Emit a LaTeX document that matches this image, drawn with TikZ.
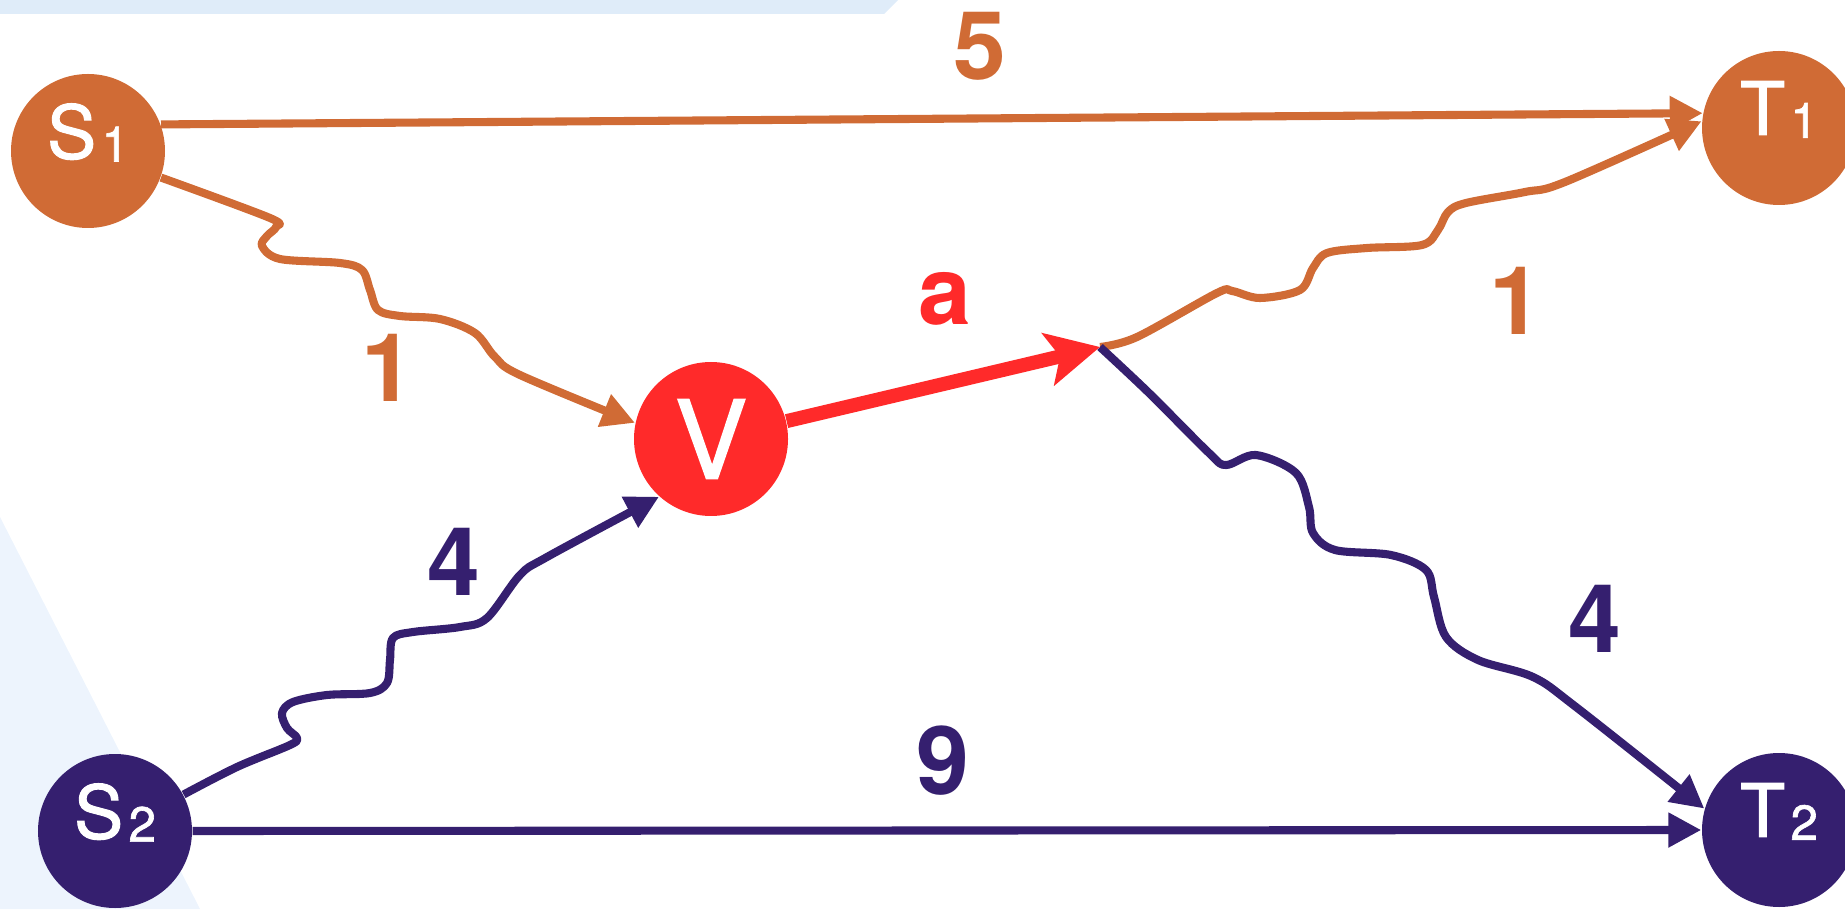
\documentclass[tikz,border=0pt]{standalone}
\usepackage{fontspec}
\setmainfont{TeX Gyre Heros}
\newfontfamily\termfont[FakeBold=1.3]{TeX Gyre Heros}
\usetikzlibrary{arrows.meta}

\definecolor{orng}{HTML}{D06B35}
\definecolor{prpl}{HTML}{351F6F}
\definecolor{hot}{HTML}{FF2A2A}
\definecolor{bandblue}{HTML}{DFECF9}
\definecolor{paleblue}{HTML}{EDF4FD}

% terminal label: letter with a small lowered index
\newcommand{\termlabel}[2]{\raisebox{4mm}{#1\kern1.5pt\raisebox{-0.3mm}{\fontsize{14}{14}\selectfont #2}}}

\begin{document}
\begin{tikzpicture}[
  terminal/.style={circle,minimum size=15.4mm,inner sep=0pt,text=white,font=\termfont\fontsize{21}{21}\selectfont},
  srcA/.style={terminal,fill=orng},
  srcB/.style={terminal,fill=prpl},
  mid/.style={terminal,fill=hot,font=\termfont\fontsize{31}{31}\selectfont},
  wire/.style={line width=2.3pt,line join=round,-{Triangle[length=3.3mm,width=3.3mm]}},
  wireA/.style={wire,orng},
  wireB/.style={wire,prpl},
  hotwire/.style={line width=4pt,hot,-{Stealth[length=5.3mm,width=5.3mm,inset=1.2mm]}},
  weight/.style={font=\bfseries\fontsize{27}{27}\selectfont}
]
\useasboundingbox (0,0) rectangle (18.45,9.09);
% background shapes
\fill[bandblue] (0,9.09) -- (8.98,9.09) -- (8.84,8.95) -- (0,8.95) -- cycle;
\fill[paleblue] (0,3.92) -- (2.00,0) -- (0,0) -- cycle;

\node[srcA] (s1) at (0.88,7.58) {\termlabel{S}{1}};
\node[srcA] (t1) at (17.79,7.81) {\termlabel{T}{1}};
\node[srcB] (s2) at (1.15,0.78) {\termlabel{S}{2}};
\node[srcB] (t2) at (17.79,0.79) {\termlabel{T}{2}};
\node[mid] (v) at (7.11,4.70) {V};
\coordinate (j) at (11.00,5.62);

% direct edges
\draw[wireA] (s1.20) -- (t1.169);
\draw[wireB] (s2.east) -- (t2.west);

% wavy edges
\draw[wireA] plot[smooth,tension=0.55] coordinates {(s1.-20) (2.70,6.91) (2.76,6.82) (2.67,6.73) (2.62,6.63)
  (2.80,6.50) (3.40,6.46) (3.62,6.39) (3.70,6.19) (3.78,5.99) (4.00,5.93) (4.40,5.90)
  (4.75,5.76) (4.95,5.52) (5.20,5.34) (v.168)};
\draw[wireB] plot[smooth,tension=0.55] coordinates {(s2.28) (2.37,1.42) (2.90,1.64) (2.97,1.71) (2.87,1.81)
  (2.82,1.96) (2.93,2.07) (3.27,2.14) (3.70,2.16) (3.87,2.26) (3.90,2.49) (3.93,2.71)
  (4.13,2.77) (4.60,2.82) (4.87,2.91) (5.20,3.34) (5.47,3.52) (v.-132)};
\draw[wireA] plot[smooth,tension=0.55] coordinates {(j) (11.37,5.72) (12.17,6.16) (12.32,6.18) (12.60,6.11)
  (13.00,6.19) (13.13,6.41) (13.27,6.56) (13.67,6.61) (14.22,6.64) (14.38,6.79)
  (14.48,6.97) (14.66,7.06) (15.25,7.17) (15.65,7.27) (t1.175)};
\draw[wireB] plot[smooth,tension=0.55] coordinates {(j) (11.49,5.16) (12.09,4.56) (12.26,4.44) (12.56,4.54)
  (12.96,4.36) (13.09,4.02) (13.13,3.76) (13.35,3.59) (13.91,3.54) (14.26,3.39)
  (14.34,3.12) (14.46,2.72) (14.78,2.49) (15.33,2.32) (15.76,2.02) (t2.164)};

\draw[hotwire] (v) -- (j);

% weights
\node[weight,orng] (w5) at (9.80,8.63) {5};
\node[weight,orng] (w1a) at (3.88,5.41) {1};
\node[weight,orng] (w1b) at (15.16,6.08) {1};
\node[weight,prpl] (w4a) at (4.54,3.47) {4};
\node[weight,prpl] (w4b) at (15.95,2.90) {4};
\node[weight,prpl] (w9) at (9.43,1.48) {9};
\node[weight,hot] (wa) at (9.45,6.10) {a};
\end{tikzpicture}
\end{document}
